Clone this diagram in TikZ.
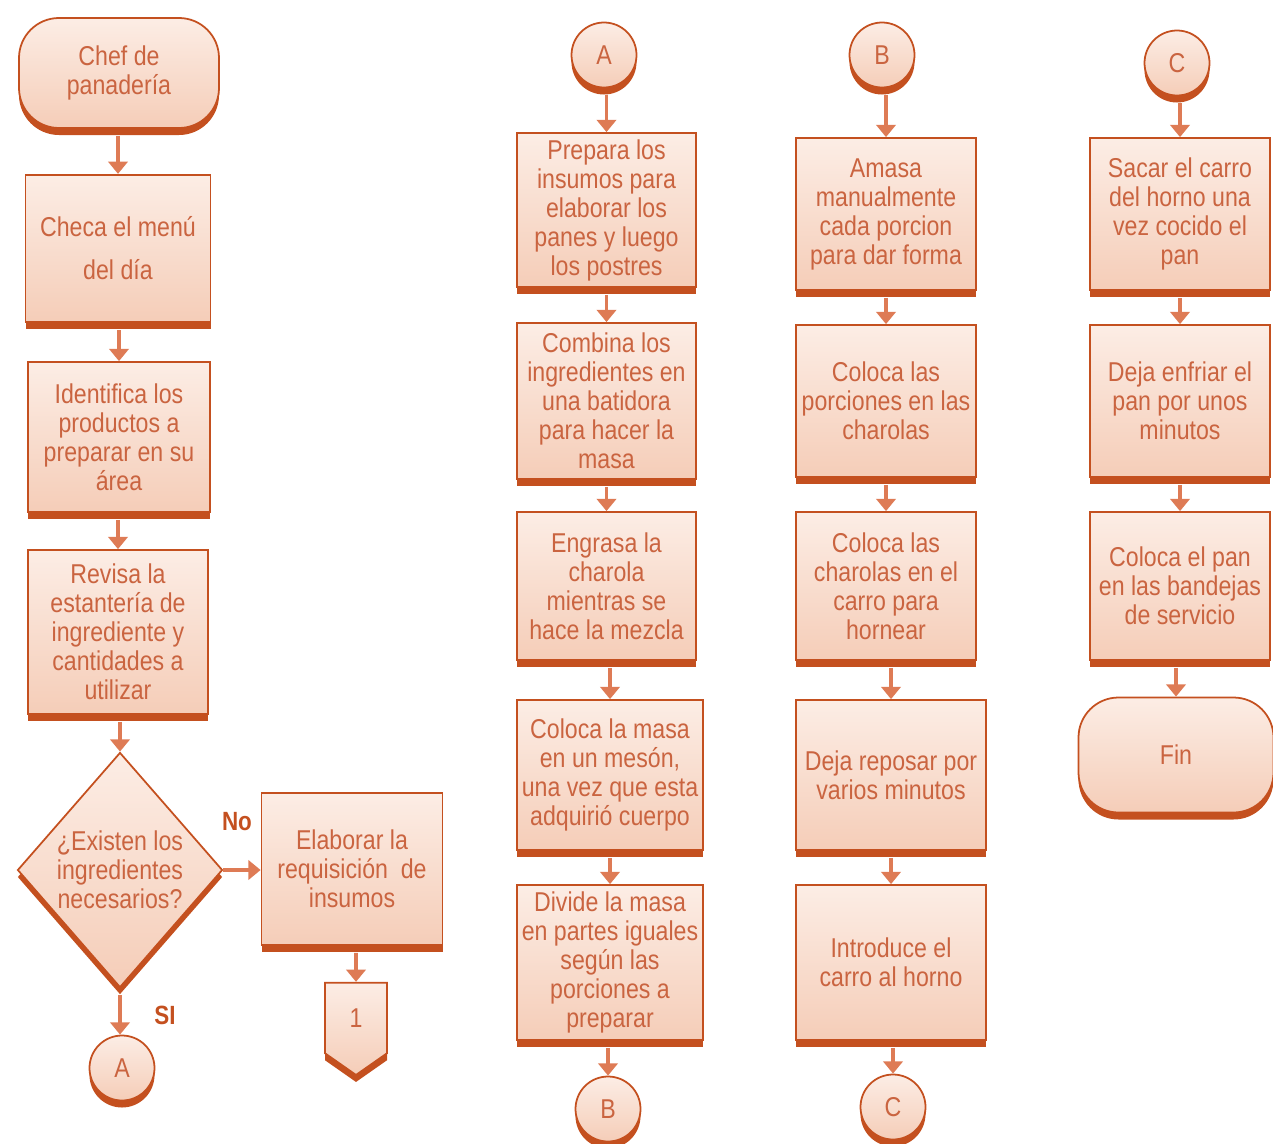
\documentclass[tikz,border=0pt]{standalone}
\usepackage{fontspec}
\setmainfont[FakeStretch=0.85]{Liberation Sans}
\usepackage{tikz}
\usetikzlibrary{arrows.meta,shapes.geometric,shapes.symbols,shadows}

\definecolor{borde}{HTML}{C4501F}
\definecolor{relleno1}{HTML}{FCEDE5}
\definecolor{relleno2}{HTML}{F5CDB8}
\definecolor{texto}{HTML}{CA6440}
\definecolor{flechac}{HTML}{DE7B55}

\tikzset{
  base/.style={draw=borde, line width=1pt, top color=relleno1, bottom color=relleno2,
    text=texto, align=center, inner sep=2pt,
    font=\fontsize{15.5}{16.5}\selectfont,
    drop shadow={shadow xshift=0cm, shadow yshift=-0.14cm, fill=borde, opacity=1}},
  proc/.style={base, rectangle, minimum width=3.6cm, minimum height=3.04cm},
  term/.style={base, rectangle, rounded corners=0.8cm, minimum width=4cm, minimum height=2.2cm},
  decis/.style={base, diamond, aspect=0.86, inner sep=0pt, minimum width=4.1cm, minimum height=4.7cm},
  conn/.style={base, circle, minimum size=1.3cm, inner sep=0pt},
  offpage/.style={base, signal, signal to=south, signal from=nowhere, signal pointer angle=110,
    minimum width=1.24cm, minimum height=1.5cm, inner sep=0pt},
  flecha/.style={draw=flechac, line width=2pt, -{Triangle[width=11pt,length=7pt]}, shorten <=0.14cm},
  etiq/.style={text=borde, font=\fontsize{15}{16}\selectfont\bfseries}
}

\begin{document}
\begin{tikzpicture}
\useasboundingbox (0,0) rectangle (25.46,-22.86);

% columna 1
\node[term] (chef) at (2.38,-1.46) {Chef de\\panadería};
\node[proc, minimum width=3.7cm, minimum height=2.95cm] (menu) at (2.36,-4.97) {Checa el menú\\[8pt]del día};
\node[proc, minimum width=3.64cm, minimum height=3.0cm] (ident) at (2.38,-8.74) {Identifica los\\productos a\\preparar en su\\área};
\node[proc, minimum height=3.28cm] (revisa) at (2.36,-12.64) {Revisa la\\estantería de\\ingrediente y\\cantidades a\\utilizar};
\node[decis] (existen) at (2.40,-17.40) {¿Existen los\\ingredientes\\necesarios?};
\node[proc, minimum width=3.62cm] (elabora) at (7.04,-17.38) {Elaborar la\\requisición~ de\\insumos};
\node[offpage] (uno) at (7.12,-20.36) {1};
\node[conn] (conA1) at (2.44,-21.36) {A};
\node[etiq] (no) at (4.74,-16.44) {No};
\node[etiq] (si) at (3.30,-20.30) {SI};

% columna 2
\node[conn] (conA2) at (12.08,-1.10) {A};
\node[proc, minimum width=3.58cm, minimum height=3.08cm] (prepara) at (12.13,-4.20) {Prepara los\\insumos para\\elaborar los\\panes y luego\\los postres};
\node[proc, minimum width=3.58cm, minimum height=3.12cm] (combina) at (12.13,-8.02) {Combina los\\ingredientes en\\una batidora\\para hacer la\\masa};
\node[proc, minimum width=3.58cm, minimum height=2.96cm] (engrasa) at (12.13,-11.72) {Engrasa la\\charola\\mientras se\\hace la mezcla};
\node[proc, minimum width=3.72cm, minimum height=3.0cm] (masa) at (12.20,-15.50) {Coloca la masa\\en un mesón,\\una vez que esta\\adquirió cuerpo};
\node[proc, minimum width=3.72cm, minimum height=3.1cm] (divide) at (12.20,-19.25) {Divide la masa\\en partes iguales\\según las\\porciones a\\preparar};
\node[conn] (conB1) at (12.16,-22.18) {B};

% columna 3
\node[conn] (conB2) at (17.64,-1.10) {B};
\node[proc] (amasa) at (17.72,-4.28) {Amasa\\manualmente\\cada porcion\\para dar forma};
\node[proc] (porciones) at (17.72,-8.02) {Coloca las\\porciones en las\\charolas};
\node[proc, minimum height=2.96cm] (charolas) at (17.72,-11.72) {Coloca las\\charolas en el\\carro para\\hornear};
\node[proc, minimum width=3.8cm, minimum height=3.0cm] (reposa) at (17.82,-15.50) {Deja reposar por\\varios minutos};
\node[proc, minimum width=3.8cm, minimum height=3.1cm] (introduce) at (17.82,-19.25) {Introduce el\\carro al horno};
\node[conn] (conC1) at (17.86,-22.14) {C};

% columna 4
\node[conn] (conC2) at (23.54,-1.26) {C};
\node[proc] (saca) at (23.60,-4.28) {Sacar el carro\\del horno una\\vez cocido el\\pan};
\node[proc] (enfria) at (23.60,-8.02) {Deja enfriar el\\pan por unos\\minutos};
\node[proc, minimum height=2.96cm] (bandejas) at (23.60,-11.72) {Coloca el pan\\en las bandejas\\de servicio};
\node[term, minimum width=3.9cm, minimum height=2.3cm] (fin) at (23.52,-15.10) {Fin};

% flechas
\draw[flecha] (chef.south -| menu.north) -- (menu);
\draw[flecha] (menu.south -| ident.north) -- (ident);
\draw[flecha] (ident.south -| revisa.north) -- (revisa);
\draw[flecha] (revisa.south -| existen.north) -- (existen);
\draw[flecha, shorten <=0pt] (existen.east) -- (existen.east -| elabora.west);
\draw[flecha] (existen.south) -- (existen.south |- conA1.north);
\draw[flecha] (elabora.south -| uno.north) -- (uno);

\draw[flecha] (conA2.south -| prepara.north) -- (prepara);
\draw[flecha] (prepara) -- (combina);
\draw[flecha] (combina) -- (engrasa);
\draw[flecha] (engrasa.south -| masa.north) -- (masa);
\draw[flecha] (masa) -- (divide);
\draw[flecha] (divide.south -| conB1.north) -- (conB1);

\draw[flecha] (conB2.south -| amasa.north) -- (amasa);
\draw[flecha] (amasa) -- (porciones);
\draw[flecha] (porciones) -- (charolas);
\draw[flecha] (charolas.south -| reposa.north) -- (reposa);
\draw[flecha] (reposa) -- (introduce);
\draw[flecha] (introduce.south -| conC1.north) -- (conC1);

\draw[flecha] (conC2.south -| saca.north) -- (saca);
\draw[flecha] (saca) -- (enfria);
\draw[flecha] (enfria) -- (bandejas);
\draw[flecha] (bandejas.south -| fin.north) -- (fin);
\end{tikzpicture}
\end{document}
